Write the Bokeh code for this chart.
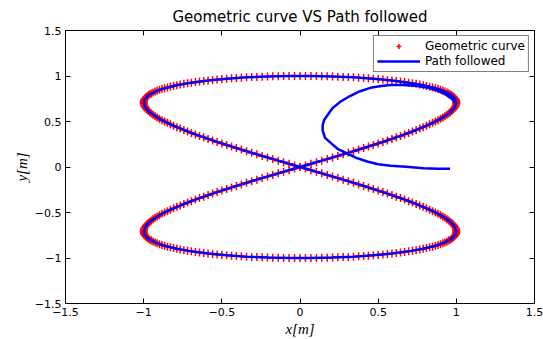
from bokeh.plotting import figure
from bokeh.models import Range1d, FixedTicker, LinearAxis, CustomJSTickFormatter
from bokeh.embed import file_html
from bokeh.resources import INLINE

title_text = "Geometric curve VS Path followed"
x_label = "x[m]"
y_label = "y[m]"
tick_values = [-1.5, -1, -0.5, 0, 0.5, 1, 1.5]
tick_labels = ["\u22121.5", "\u22121", "\u22120.5", "0", "0.5", "1", "1.5"]
legend_curve = "Geometric curve"
legend_path = "Path followed"

# Geometric (reference) curve
curve_x = [0, .035, .070, .105, .139, .174, .208, .242, .276, .309, .342, .375, .407, .438, .469, .500, .530, .559, .588, .616,
           .643, .669, .695, .719, .743, .766, .788, .809, .829, .848, .866, .883, .899, .914, .927, .940, .951, .961, .970, .978,
           .985, .990, .995, .998, .999, 1.0, .999, .998, .995, .990, .985, .978, .970, .961, .951, .940, .927, .914, .899, .883,
           .866, .848, .829, .809, .788, .766, .743, .719, .695, .669, .643, .616, .588, .559, .530, .500, .469, .438, .407, .375,
           .342, .309, .276, .242, .208, .174, .139, .105, .070, .035,
           0, -.035, -.070, -.105, -.139, -.174, -.208, -.242, -.276, -.309, -.342, -.375, -.407, -.438, -.469, -.500, -.530,
           -.559, -.588, -.616, -.643, -.669, -.695, -.719, -.743, -.766, -.788, -.809, -.829, -.848, -.866, -.883, -.899, -.914,
           -.927, -.940, -.951, -.961, -.970, -.978, -.985, -.990, -.995, -.998, -.999, -1.0, -.999, -.998, -.995, -.990, -.985,
           -.978, -.970, -.961, -.951, -.940, -.927, -.914, -.899, -.883, -.866, -.848, -.829, -.809, -.788, -.766, -.743, -.719,
           -.695, -.669, -.643, -.616, -.588, -.559, -.530, -.500, -.469, -.438, -.407, -.375, -.342, -.309, -.276, -.242, -.208,
           -.174, -.139, -.105, -.070, -.035,
           0, .035, .070, .105, .139, .174, .208, .242, .276, .309, .342, .375, .407, .438, .469, .500, .530, .559, .588, .616,
           .643, .669, .695, .719, .743, .766, .788, .809, .829, .848, .866, .883, .899, .914, .927, .940, .951, .961, .970, .978,
           .985, .990, .995, .998, .999, 1.0, .999, .998, .995, .990, .985, .978, .970, .961, .951, .940, .927, .914, .899, .883,
           .866, .848, .829, .809, .788, .766, .743, .719, .695, .669, .643, .616, .588, .559, .530, .500, .469, .438, .407, .375,
           .342, .309, .276, .242, .208, .174, .139, .105, .070, .035,
           0, -.035, -.070, -.105, -.139, -.174, -.208, -.242, -.276, -.309, -.342, -.375, -.407, -.438, -.469, -.500, -.530,
           -.559, -.588, -.616, -.643, -.669, -.695, -.719, -.743, -.766, -.788, -.809, -.829, -.848, -.866, -.883, -.899, -.914,
           -.927, -.940, -.951, -.961, -.970, -.978, -.985, -.990, -.995, -.998, -.999, -1.0, -.999, -.998, -.995, -.990, -.985,
           -.978, -.970, -.961, -.951, -.940, -.927, -.914, -.899, -.883, -.866, -.848, -.829, -.809, -.788, -.766, -.743, -.719,
           -.695, -.669, -.643, -.616, -.588, -.559, -.530, -.500, -.469, -.438, -.407, -.375, -.342, -.309, -.276, -.242, -.208,
           -.174, -.139, -.105, -.070, -.035]
curve_y = [0, .017, .035, .052, .070, .087, .105, .122, .139, .156,
           .174, .191, .208, .225, .242, .259, .276, .292, .309, .326,
           .342, .358, .375, .391, .407, .423, .438, .454, .469, .485,
           .500, .515, .530, .545, .559, .574, .588, .602, .616, .629,
           .643, .656, .669, .682, .695, .707, .719, .731, .743, .755,
           .766, .777, .788, .799, .809, .819, .829, .839, .848, .857,
           .866, .875, .883, .891, .899, .906, .914, .921, .927, .934,
           .940, .946, .951, .956, .961, .966, .970, .974, .978, .982,
           .985, .988, .990, .993, .995, .996, .998, .999, .999, 1.0,
           1.0,
           1.0, .999, .999, .998, .996, .995, .993, .990, .988, .985,
           .982, .978, .974, .970, .966, .961, .956, .951, .946, .940,
           .934, .927, .921, .914, .906, .899, .891, .883, .875, .866,
           .857, .848, .839, .829, .819, .809, .799, .788, .777, .766,
           .755, .743, .731, .719, .707, .695, .682, .669, .656, .643,
           .629, .616, .602, .588, .574, .559, .545, .530, .515, .500,
           .485, .469, .454, .438, .423, .407, .391, .375, .358, .342,
           .326, .309, .292, .276, .259, .242, .225, .208, .191, .174,
           .156, .139, .122, .105, .087, .070, .052, .035, .017,
           0, -.017, -.035, -.052, -.070, -.087, -.105, -.122, -.139, -.156,
           -.174, -.191, -.208, -.225, -.242, -.259, -.276, -.292, -.309, -.326,
           -.342, -.358, -.375, -.391, -.407, -.423, -.438, -.454, -.469, -.485,
           -.500, -.515, -.530, -.545, -.559, -.574, -.588, -.602, -.616, -.629,
           -.643, -.656, -.669, -.682, -.695, -.707, -.719, -.731, -.743, -.755,
           -.766, -.777, -.788, -.799, -.809, -.819, -.829, -.839, -.848, -.857,
           -.866, -.875, -.883, -.891, -.899, -.906, -.914, -.921, -.927, -.934,
           -.940, -.946, -.951, -.956, -.961, -.966, -.970, -.974, -.978, -.982,
           -.985, -.988, -.990, -.993, -.995, -.996, -.998, -.999, -.999, -1.0,
           -1.0,
           -1.0, -.999, -.999, -.998, -.996, -.995, -.993, -.990, -.988, -.985,
           -.982, -.978, -.974, -.970, -.966, -.961, -.956, -.951, -.946, -.940,
           -.934, -.927, -.921, -.914, -.906, -.899, -.891, -.883, -.875, -.866,
           -.857, -.848, -.839, -.829, -.819, -.809, -.799, -.788, -.777, -.766,
           -.755, -.743, -.731, -.719, -.707, -.695, -.682, -.669, -.656, -.643,
           -.629, -.616, -.602, -.588, -.574, -.559, -.545, -.530, -.515, -.500,
           -.485, -.469, -.454, -.438, -.423, -.407, -.391, -.375, -.358, -.342,
           -.326, -.309, -.292, -.276, -.259, -.242, -.225, -.208, -.191, -.174,
           -.156, -.139, -.122, -.105, -.087, -.070, -.052, -.035, -.017]

# Path followed: start-up transient, then one lap of the figure eight
path_x = [0.96, 0.88, 0.79, 0.70, 0.58, 0.50, 0.43, 0.36, 0.30, 0.24, 0.20, 0.16, 0.145, 0.145, 0.155, 0.18, 0.21, 0.26,
          0.32, 0.38, 0.45, 0.52, 0.58, 0.66, 0.75, 0.82, 0.88, 0.93, 0.97,
          .999, .985, .951, .899, .829, .743, .643, .530, .407, .276, .139, 0,
          -.139, -.276, -.407, -.530, -.643, -.743, -.829, -.899, -.951, -.985, -.999, -.995, -.970, -.927, -.866, -.788,
          -.695, -.588, -.469, -.342, -.208, -.070,
          .070, .208, .342, .469, .588, .695, .788, .866, .927, .970, .995, .999, .985, .951, .899, .829, .743, .643, .530,
          .407, .276, .139,
          0,
          -.139, -.276, -.407, -.530, -.643, -.743, -.829, -.899, -.951, -.985, -.999, -.995, -.970, -.927, -.866, -.788,
          -.695, -.588, -.469, -.342, -.208, -.070,
          .070, .208, .342, .469, .588, .695, .788, .866, .927, .970, .995, .999]
path_y = [-0.02, -0.02, -0.015, 0.0, 0.015, 0.03, 0.06, 0.10, 0.15, 0.20, 0.26, 0.32, 0.40, 0.46, 0.52, 0.58, 0.65, 0.72,
          0.78, 0.83, 0.87, 0.89, 0.90, 0.90, 0.89, 0.87, 0.84, 0.80, 0.75,
          .695, .643, .588, .530, .469, .407, .342, .276, .208, .139, .070, 0,
          -.070, -.139, -.208, -.276, -.342, -.407, -.469, -.530, -.588, -.643, -.695, -.743, -.788, -.829, -.866, -.899,
          -.927, -.951, -.970, -.985, -.995, -.999,
          -.999, -.995, -.985, -.970, -.951, -.927, -.899, -.866, -.829, -.788, -.743, -.695, -.643, -.588, -.530, -.469,
          -.407, -.342, -.276, -.208, -.139, -.070,
          0,
          .070, .139, .208, .276, .342, .407, .469, .530, .588, .643, .695, .743, .788, .829, .866, .899, .927, .951, .970,
          .985, .995, .999,
          .999, .995, .985, .970, .951, .927, .899, .866, .829, .788, .743, .695]

FONT = "DejaVu Sans"

p = figure(width=543, height=339, output_backend="svg", toolbar_location=None,
           x_range=Range1d(-1.5, 1.5), y_range=Range1d(-1.5, 1.5),
           min_border_left=65, min_border_right=9, min_border_top=29, min_border_bottom=34)
p.background_fill_color = "white"
p.border_fill_color = "white"
p.outline_line_color = "black"
p.outline_line_width = 1
p.grid.visible = False

p.title.text = title_text
p.title.align = "center"
p.title.text_font = FONT
p.title.text_font_style = "normal"
p.title.text_font_size = "15px"
p.title.text_color = "black"

overrides = {v: l for v, l in zip(tick_values, tick_labels)}

def style_axis(ax, labels=True):
    ax.ticker = FixedTicker(ticks=tick_values)
    ax.major_tick_in = 5
    ax.major_tick_out = 0
    ax.minor_tick_line_color = None
    ax.axis_line_color = "black"
    ax.major_tick_line_color = "black"
    if labels:
        ax.major_label_overrides = overrides
        ax.major_label_text_font = FONT
        ax.major_label_text_font_size = "11px"
        ax.major_label_text_color = "black"
        ax.major_label_standoff = 4
    else:
        ax.formatter = CustomJSTickFormatter(code="return ''")
        ax.major_label_text_font_size = "1px"
        ax.major_label_standoff = 0

for ax in list(p.xaxis) + list(p.yaxis):
    style_axis(ax)
    ax.axis_label_text_font = "Liberation Serif"
    ax.axis_label_text_font_style = "italic"
    ax.axis_label_text_font_size = "15px"
    ax.axis_label_text_color = "black"
    ax.axis_label_standoff = 2
p.xaxis.axis_label = x_label
p.yaxis.axis_label = y_label

top_ax = LinearAxis()
style_axis(top_ax, labels=False)
p.add_layout(top_ax, "above")
right_ax = LinearAxis()
style_axis(right_ax, labels=False)
p.add_layout(right_ax, "right")

p.scatter(curve_x, curve_y, marker="cross", size=8, line_color="red", line_width=1.5,
          legend_label=legend_curve)
p.line(path_x, path_y, line_color="blue", line_width=2.5, legend_label=legend_path)

lg = p.legend[0]
lg.location = "top_right"
lg.border_line_color = "black"
lg.border_line_width = 1
lg.label_text_font = FONT
lg.label_text_font_size = "12px"
lg.label_text_color = "black"
lg.glyph_width = 43
lg.glyph_height = 12
lg.label_height = 12
lg.label_standoff = 5
lg.spacing = 1
lg.padding = 3
lg.margin = 5
lg.background_fill_alpha = 1

open("out.html", "w").write(file_html(p, INLINE))
